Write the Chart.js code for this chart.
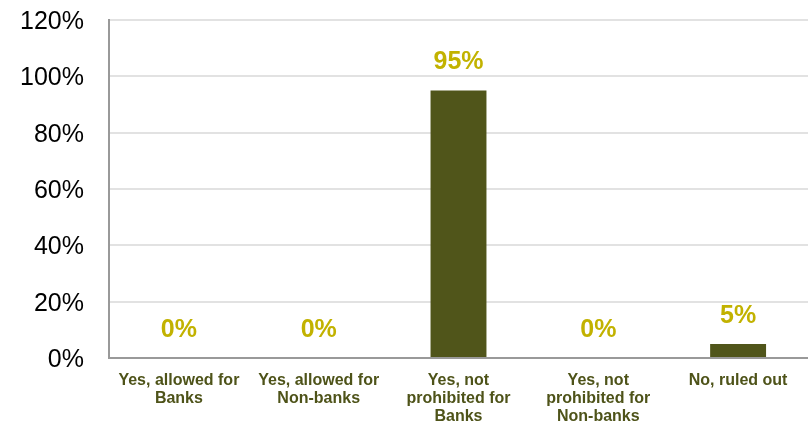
<!DOCTYPE html>
<html>
<head>
<meta charset="utf-8">
<script src="https://cdn.jsdelivr.net/npm/chart.js@4/dist/chart.umd.min.js"></script>
<style>
  html, body { margin: 0; padding: 0; background: #fff; }
  #wrap { width: 808px; height: 423px; }
</style>
</head>
<body>
<div id="wrap"><canvas id="chart" width="808" height="423"></canvas></div>
<script>
/* ---- data ---- */
const categories = [
  ["Yes, allowed for", "Banks"],
  ["Yes, allowed for", "Non-banks"],
  ["Yes, not", "prohibited for", "Banks"],
  ["Yes, not", "prohibited for", "Non-banks"],
  ["No, ruled out"]
];
const shares = [0, 0, 95, 0, 5];
const yTicks = [0, 20, 40, 60, 80, 100, 120];

/* ---- value labels above bars ---- */
const valueLabels = {
  id: "valueLabels",
  afterDatasetsDraw(chart) {
    const ctx = chart.ctx;
    const meta = chart.getDatasetMeta(0);
    ctx.save();
    ctx.font = "bold 25px 'Liberation Sans', Arial, sans-serif";
    ctx.fillStyle = "#C2B200";
    ctx.textAlign = "center";
    ctx.textBaseline = "middle";
    meta.data.forEach((bar, i) => {
      ctx.fillText(shares[i] + "%", bar.x, bar.y - 28);
    });
    ctx.restore();
  }
};

new Chart(document.getElementById("chart"), {
  type: "bar",
  data: {
    labels: categories,
    datasets: [{
      data: shares,
      backgroundColor: "#50551A",
      barPercentage: 0.4,
      categoryPercentage: 1.0
    }]
  },
  options: {
    responsive: false,
    animation: false,
    layout: { padding: { top: 20, right: 0, left: 0, bottom: 0 } },
    plugins: { legend: { display: false }, tooltip: { enabled: false } },
    scales: {
      x: {
        grid: { display: false, drawTicks: false },
        border: { color: "#999999", width: 2 },
        afterFit(axis) { axis.height = 65; axis.paddingLeft = 0; axis.paddingRight = 0; },
        ticks: {
          color: "#4E5319",
          font: { family: "'Liberation Sans', Arial, sans-serif", size: 16, weight: "bold", lineHeight: 1.125 },
          padding: 14,
          maxRotation: 0,
          autoSkip: false
        }
      },
      y: {
        min: 0,
        max: 120,
        afterBuildTicks(axis) { axis.ticks = yTicks.map(v => ({ value: v })); },
        afterFit(axis) { axis.width = 109; axis.paddingTop = 0; axis.paddingBottom = 0; },
        grid: { color: "#E2E2E2", lineWidth: 2, drawTicks: false },
        border: { color: "#999999", width: 2 },
        ticks: {
          color: "#000000",
          font: { family: "'Liberation Sans', Arial, sans-serif", size: 25 },
          padding: 25,
          labelOffset: 2,
          callback: v => v + "%"
        }
      }
    }
  },
  plugins: [valueLabels]
});
</script>
</body>
</html>
